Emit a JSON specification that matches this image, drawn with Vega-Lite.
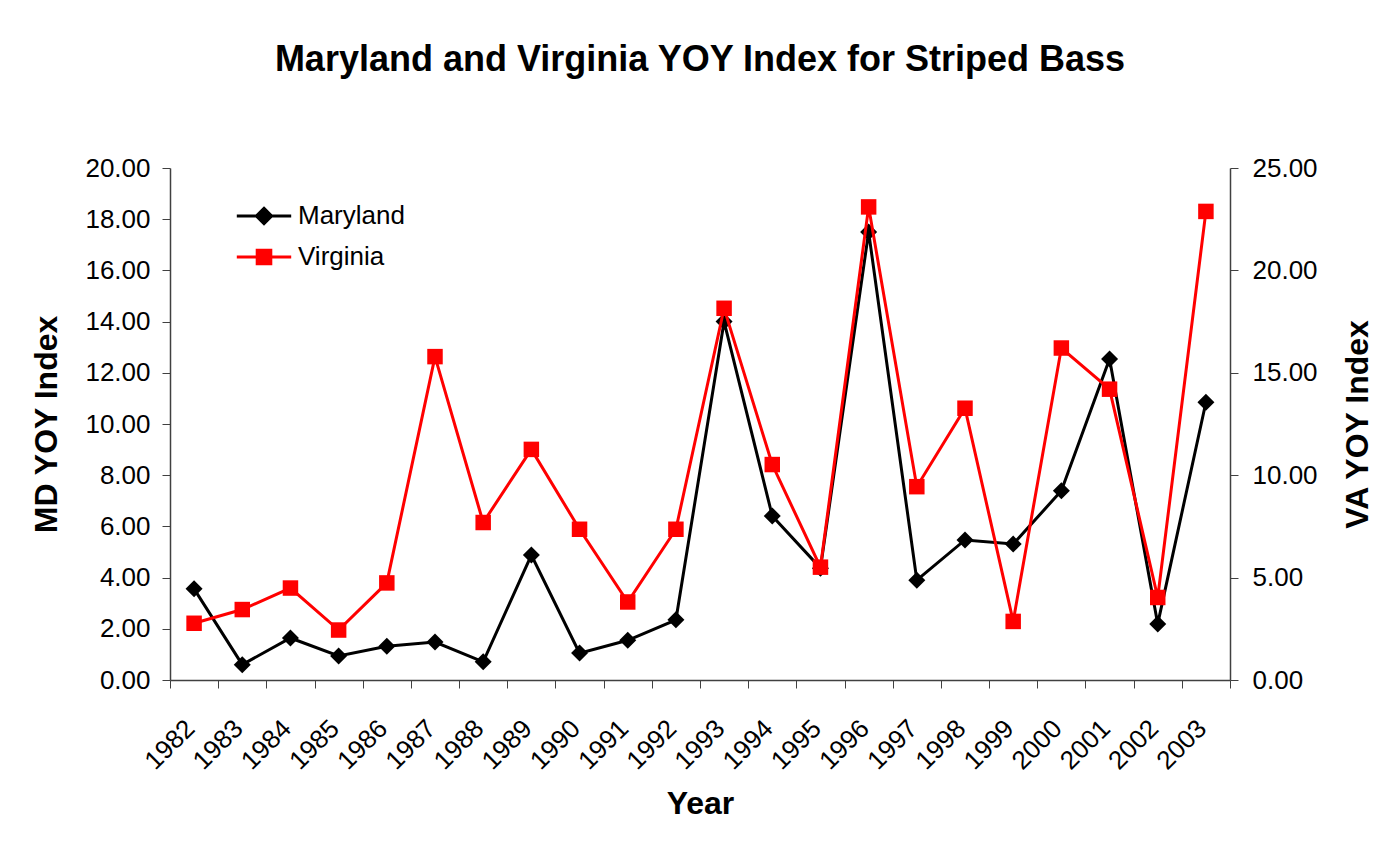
{
  "$schema": "https://vega.github.io/schema/vega-lite/v6.json",
  "width": 1060,
  "height": 512,
  "autosize": {"type": "none"},
  "padding": {"left": 170, "top": 168, "right": 150, "bottom": 168},
  "background": "white",
  "config": {"view": {"stroke": null}, "font": "Liberation Sans"},
  "title": {
    "text": "Maryland and Virginia YOY Index for Striped Bass",
    "font": "Liberation Sans",
    "fontSize": 36,
    "fontWeight": "bold",
    "color": "black",
    "anchor": "middle",
    "baseline": "alphabetic",
    "offset": 48
  },
  "data": {
    "values": [
      {"year": 1982, "series": "Maryland", "value": 3.56},
      {"year": 1983, "series": "Maryland", "value": 0.60},
      {"year": 1984, "series": "Maryland", "value": 1.64},
      {"year": 1985, "series": "Maryland", "value": 0.94},
      {"year": 1986, "series": "Maryland", "value": 1.32},
      {"year": 1987, "series": "Maryland", "value": 1.48},
      {"year": 1988, "series": "Maryland", "value": 0.71},
      {"year": 1989, "series": "Maryland", "value": 4.88},
      {"year": 1990, "series": "Maryland", "value": 1.05},
      {"year": 1991, "series": "Maryland", "value": 1.55},
      {"year": 1992, "series": "Maryland", "value": 2.35},
      {"year": 1993, "series": "Maryland", "value": 14.0},
      {"year": 1994, "series": "Maryland", "value": 6.41},
      {"year": 1995, "series": "Maryland", "value": 4.37},
      {"year": 1996, "series": "Maryland", "value": 17.5},
      {"year": 1997, "series": "Maryland", "value": 3.90},
      {"year": 1998, "series": "Maryland", "value": 5.47},
      {"year": 1999, "series": "Maryland", "value": 5.31},
      {"year": 2000, "series": "Maryland", "value": 7.39},
      {"year": 2001, "series": "Maryland", "value": 12.54},
      {"year": 2002, "series": "Maryland", "value": 2.19},
      {"year": 2003, "series": "Maryland", "value": 10.85},
      {"year": 1982, "series": "Virginia", "value": 2.77},
      {"year": 1983, "series": "Virginia", "value": 3.44},
      {"year": 1984, "series": "Virginia", "value": 4.49},
      {"year": 1985, "series": "Virginia", "value": 2.44},
      {"year": 1986, "series": "Virginia", "value": 4.74},
      {"year": 1987, "series": "Virginia", "value": 15.79},
      {"year": 1988, "series": "Virginia", "value": 7.69},
      {"year": 1989, "series": "Virginia", "value": 11.26},
      {"year": 1990, "series": "Virginia", "value": 7.36},
      {"year": 1991, "series": "Virginia", "value": 3.81},
      {"year": 1992, "series": "Virginia", "value": 7.36},
      {"year": 1993, "series": "Virginia", "value": 18.15},
      {"year": 1994, "series": "Virginia", "value": 10.52},
      {"year": 1995, "series": "Virginia", "value": 5.51},
      {"year": 1996, "series": "Virginia", "value": 23.10},
      {"year": 1997, "series": "Virginia", "value": 9.44},
      {"year": 1998, "series": "Virginia", "value": 13.27},
      {"year": 1999, "series": "Virginia", "value": 2.86},
      {"year": 2000, "series": "Virginia", "value": 16.21},
      {"year": 2001, "series": "Virginia", "value": 14.20},
      {"year": 2002, "series": "Virginia", "value": 4.03},
      {"year": 2003, "series": "Virginia", "value": 22.88}
    ]
  },
  "encoding": {
    "x": {
      "field": "year",
      "type": "ordinal",
      "bandPosition": 0.5,
      "scale": {"type": "band", "paddingInner": 0, "paddingOuter": 0},
      "axis": {
        "title": "Year",
        "titleFont": "Liberation Sans",
        "titleFontSize": 32,
        "titleFontWeight": "bold",
        "titleColor": "black",
        "titlePadding": 14,
        "labelAngle": -45,
        "labelAlign": "right",
        "labelBaseline": "middle",
        "labelFont": "Liberation Sans",
        "labelFontSize": 26,
        "labelColor": "black",
        "labelPadding": 36,
        "labelOffset": -4,
        "tickBand": "extent",
        "tickSize": 8,
        "tickColor": "#404040",
        "domainColor": "#404040",
        "domainWidth": 1.5,
        "grid": false
      }
    }
  },
  "layer": [
    {
      "transform": [{"filter": "datum.series === 'Maryland'"}],
      "encoding": {
        "y": {
          "field": "value",
          "type": "quantitative",
          "scale": {"domain": [0, 20], "nice": false},
          "axis": {
            "orient": "left",
            "title": "MD YOY Index",
            "values": [0, 2, 4, 6, 8, 10, 12, 14, 16, 18, 20],
            "format": ".2f",
            "grid": false,
            "tickSize": 8,
            "tickColor": "#404040",
            "domainColor": "#404040",
            "domainWidth": 1.5,
            "labelPadding": 12,
            "labelFont": "Liberation Sans",
            "labelFontSize": 26,
            "labelColor": "black",
            "titleFont": "Liberation Sans",
            "titleFontSize": 32,
            "titleFontWeight": "bold",
            "titleColor": "black",
            "titlePadding": 21
          }
        },
        "color": {
          "field": "series",
          "type": "nominal",
          "scale": {"domain": ["Maryland", "Virginia"], "range": ["#000000", "#ff0000"]},
          "legend": {
            "title": null,
            "orient": "none",
            "legendX": 81,
            "legendY": 35,
            "padding": 0,
            "symbolSize": 256,
            "labelOffset": 21,
            "labelFont": "Liberation Sans",
            "labelFontSize": 26,
            "labelColor": "black",
            "rowPadding": 14,
            "encode": {
              "symbols": {
                "update": {
                  "shape": {"signal": "datum.value === 'Maryland' ? 'M-3.4,0H3.4M0,-0.95L0.95,0L0,0.95L-0.95,0Z' : 'M-3.4,0H3.4M-0.85,-0.85H0.85V0.85H-0.85Z'"},
                  "strokeWidth": {"value": 3},
                  "stroke": {"scale": "color", "field": "value"},
                  "fill": {"scale": "color", "field": "value"},
                  "opacity": {"value": 1}
                }
              }
            }
          }
        }
      },
      "layer": [
        {"mark": {"type": "line", "strokeWidth": 3}},
        {"mark": {"type": "point", "filled": true, "opacity": 1, "size": 289, "shape": "diamond"}}
      ]
    },
    {
      "transform": [{"filter": "datum.series === 'Virginia'"}],
      "encoding": {
        "y": {
          "field": "value",
          "type": "quantitative",
          "scale": {"domain": [0, 25], "nice": false},
          "axis": {
            "orient": "right",
            "title": "VA YOY Index",
            "values": [0, 5, 10, 15, 20, 25],
            "format": ".2f",
            "grid": false,
            "tickSize": 8,
            "tickColor": "#404040",
            "domainColor": "#404040",
            "domainWidth": 1.5,
            "labelPadding": 14,
            "labelFont": "Liberation Sans",
            "labelFontSize": 26,
            "labelColor": "black",
            "titleFont": "Liberation Sans",
            "titleFontSize": 32,
            "titleFontWeight": "bold",
            "titleColor": "black",
            "titleAngle": 270,
            "titleBaseline": "top",
            "titlePadding": 25
          }
        },
        "color": {
          "field": "series",
          "type": "nominal",
          "scale": {"domain": ["Maryland", "Virginia"], "range": ["#000000", "#ff0000"]}
        }
      },
      "layer": [
        {"mark": {"type": "line", "strokeWidth": 3}},
        {"mark": {"type": "point", "filled": true, "opacity": 1, "size": 240, "shape": "square"}}
      ]
    }
  ],
  "resolve": {"scale": {"y": "independent"}}
}
